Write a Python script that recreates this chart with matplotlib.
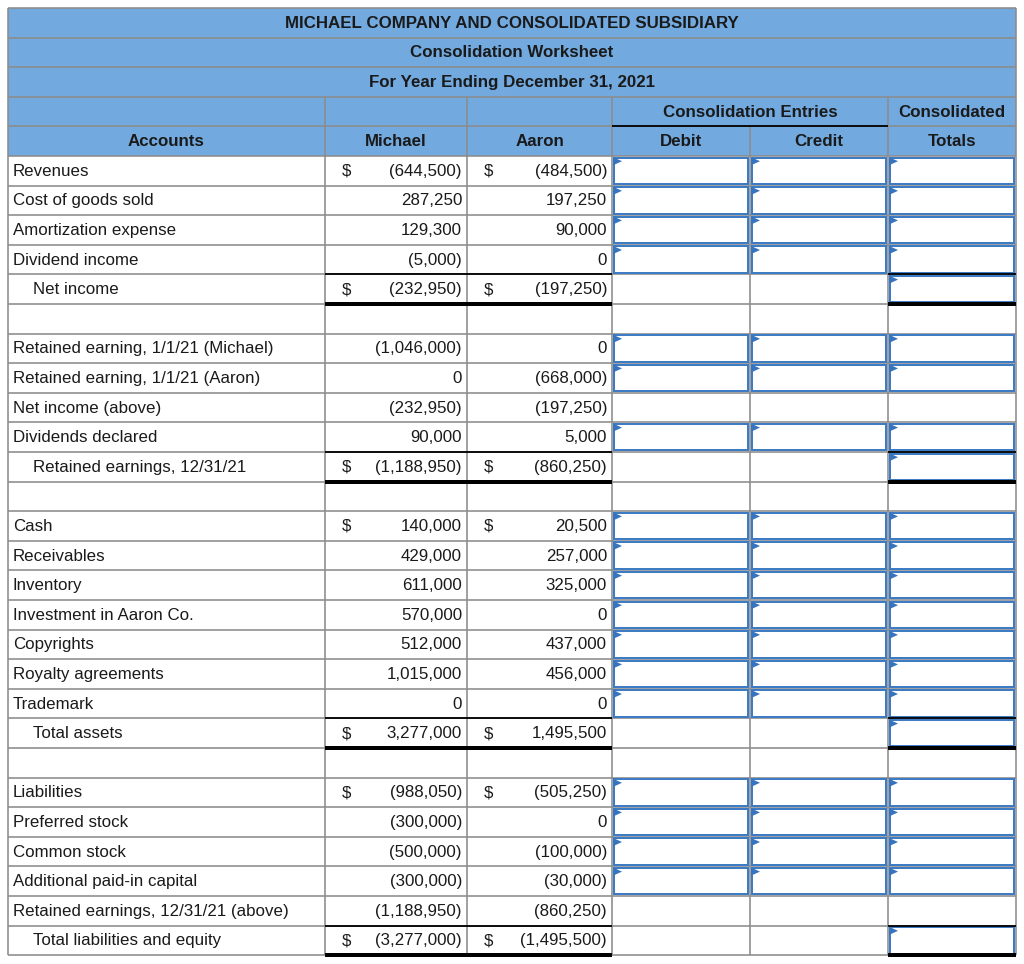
import matplotlib
matplotlib.use("Agg")
import matplotlib.pyplot as plt
from matplotlib.patches import Rectangle, Polygon

plt.rcParams['font.family'] = ['Liberation Sans', 'DejaVu Sans']

# ---------------- data ----------------
title_lines = ["MICHAEL COMPANY AND CONSOLIDATED SUBSIDIARY",
               "Consolidation Worksheet",
               "For Year Ending December 31, 2021"]
col_headers_top = ["", "", "", "Consolidation Entries", "Consolidated"]
col_headers = ["Accounts", "Michael", "Aaron", "Debit", "Credit", "Totals"]

accounts = ["Revenues", "Cost of goods sold", "Amortization expense", "Dividend income",
            "Net income", "",
            "Retained earning, 1/1/21 (Michael)", "Retained earning, 1/1/21 (Aaron)",
            "Net income (above)", "Dividends declared", "Retained earnings, 12/31/21", "",
            "Cash", "Receivables", "Inventory", "Investment in Aaron Co.", "Copyrights",
            "Royalty agreements", "Trademark", "Total assets", "",
            "Liabilities", "Preferred stock", "Common stock", "Additional paid-in capital",
            "Retained earnings, 12/31/21 (above)", "Total liabilities and equity"]

michael = [-644500, 287250, 129300, -5000, -232950, None,
           -1046000, 0, -232950, 90000, -1188950, None,
           140000, 429000, 611000, 570000, 512000, 1015000, 0, 3277000, None,
           -988050, -300000, -500000, -300000, -1188950, -3277000]

aaron = [-484500, 197250, 90000, 0, -197250, None,
         0, -668000, -197250, 5000, -860250, None,
         20500, 257000, 325000, 0, 437000, 456000, 0, 1495500, None,
         -505250, 0, -100000, -30000, -860250, -1495500]

dollar_rows = ["Revenues", "Net income", "Retained earnings, 12/31/21", "Cash",
               "Total assets", "Liabilities", "Total liabilities and equity"]
total_rows = ["Net income", "Retained earnings, 12/31/21", "Total assets",
              "Total liabilities and equity"]
no_input_rows = ["Net income (above)", "Retained earnings, 12/31/21 (above)"]

# ---------------- layout ----------------
W, H = 1024, 964
X = [8, 325, 467, 612, 750, 888, 1016]
Y0, RH = 8.0, 29.6
NHEAD = 5

HEAD_BLUE = '#72aae0'
GRID = '#8c8c8c'
INPUT = '#3d7bc4'
FLAG = '#3674c0'
TXT = '#1a1a1a'
FS = 12.2

fig = plt.figure(figsize=(W / 100, H / 100), dpi=100)
ax = fig.add_axes([0, 0, 1, 1])
ax.set_xlim(0, W)
ax.set_ylim(H, 0)
ax.axis('off')

def ry(i):
    return Y0 + i * RH

def px(v):
    return v * 0.72

nrows = NHEAD + len(accounts)
top, bottom = ry(0), ry(nrows)

# header fill
ax.add_patch(Rectangle((X[0], top), X[-1] - X[0], NHEAD * RH, facecolor=HEAD_BLUE,
                       edgecolor='none', zorder=1))

# title rows
for k, t in enumerate(title_lines):
    ax.text((X[0] + X[-1]) / 2, ry(k) + RH / 2 + 0.5, t, ha='center', va='center',
            fontsize=FS, fontweight='bold', color=TXT, zorder=5)

# header row 3 / 4
ax.text((X[3] + X[5]) / 2, ry(3) + RH / 2 + 0.5, col_headers_top[3], ha='center',
        va='center', fontsize=FS, fontweight='bold', color=TXT, zorder=5)
ax.text((X[5] + X[6]) / 2, ry(3) + RH / 2 + 0.5, col_headers_top[4], ha='center',
        va='center', fontsize=FS, fontweight='bold', color=TXT, zorder=5)
for c, h in enumerate(col_headers):
    ax.text((X[c] + X[c + 1]) / 2, ry(4) + RH / 2 + 0.5, h, ha='center', va='center',
            fontsize=FS, fontweight='bold', color=TXT, zorder=5)

# grid lines
glw = px(1.6)
for i in range(nrows + 1):
    ax.plot([X[0], X[-1]], [ry(i), ry(i)], color=GRID, lw=glw, zorder=2,
            solid_capstyle='butt')
for j, x in enumerate(X):
    y_start = top if j in (0, len(X) - 1) else ry(3)
    if j == 4:
        y_start = ry(4)
    ax.plot([x, x], [y_start, bottom], color=GRID, lw=glw, zorder=2, solid_capstyle='butt')

# black line under "Consolidation Entries"
ax.plot([X[3], X[5]], [ry(4), ry(4)], color='black', lw=px(1.8), zorder=3,
        solid_capstyle='butt')

def fmt(v):
    if v is None:
        return ""
    s = f"{abs(v):,}"
    return f"({s})" if v < 0 else s

def input_box(x0, x1, y0):
    ax.add_patch(Rectangle((x0 + 1.8, y0 + 1.6), x1 - x0 - 3.6, RH - 3.2,
                           facecolor='white', edgecolor=INPUT, lw=px(2.0), zorder=4))
    ax.add_patch(Polygon([(x0 + 1.2, y0 + 1.2), (x0 + 10.0, y0 + 5.2), (x0 + 1.2, y0 + 9.2)],
                         closed=True, facecolor=FLAG, edgecolor='none', zorder=6))

for r, name in enumerate(accounts):
    i = NHEAD + r
    yc = ry(i) + RH / 2 + 0.5
    indent = 20 if name in total_rows else 0
    ax.text(X[0] + 5 + indent, yc, name, ha='left', va='center', fontsize=FS,
            color=TXT, zorder=5)
    for col, vals in ((1, michael), (2, aaron)):
        s = fmt(vals[r])
        if s:
            ax.text(X[col + 1] - 5, yc, s, ha='right', va='center', fontsize=FS,
                    color=TXT, zorder=5)
        if name in dollar_rows:
            ax.text(X[col] + 17, yc, "$", ha='left', va='center', fontsize=FS,
                    color=TXT, zorder=5)
    if name == "":
        continue
    if name in total_rows:
        input_box(X[5], X[6], ry(i))
        for (a, b) in ((X[1], X[3]), (X[5], X[6])):
            ax.plot([a, b], [ry(i), ry(i)], color='black', lw=px(1.8), zorder=7,
                    solid_capstyle='butt')
            ax.plot([a, b], [ry(i + 1), ry(i + 1)], color='black', lw=px(4.0), zorder=7,
                    solid_capstyle='butt')
    elif name not in no_input_rows:
        for c in (3, 4, 5):
            input_box(X[c], X[c + 1], ry(i))

fig.savefig("out.png", dpi=100, facecolor='white')
